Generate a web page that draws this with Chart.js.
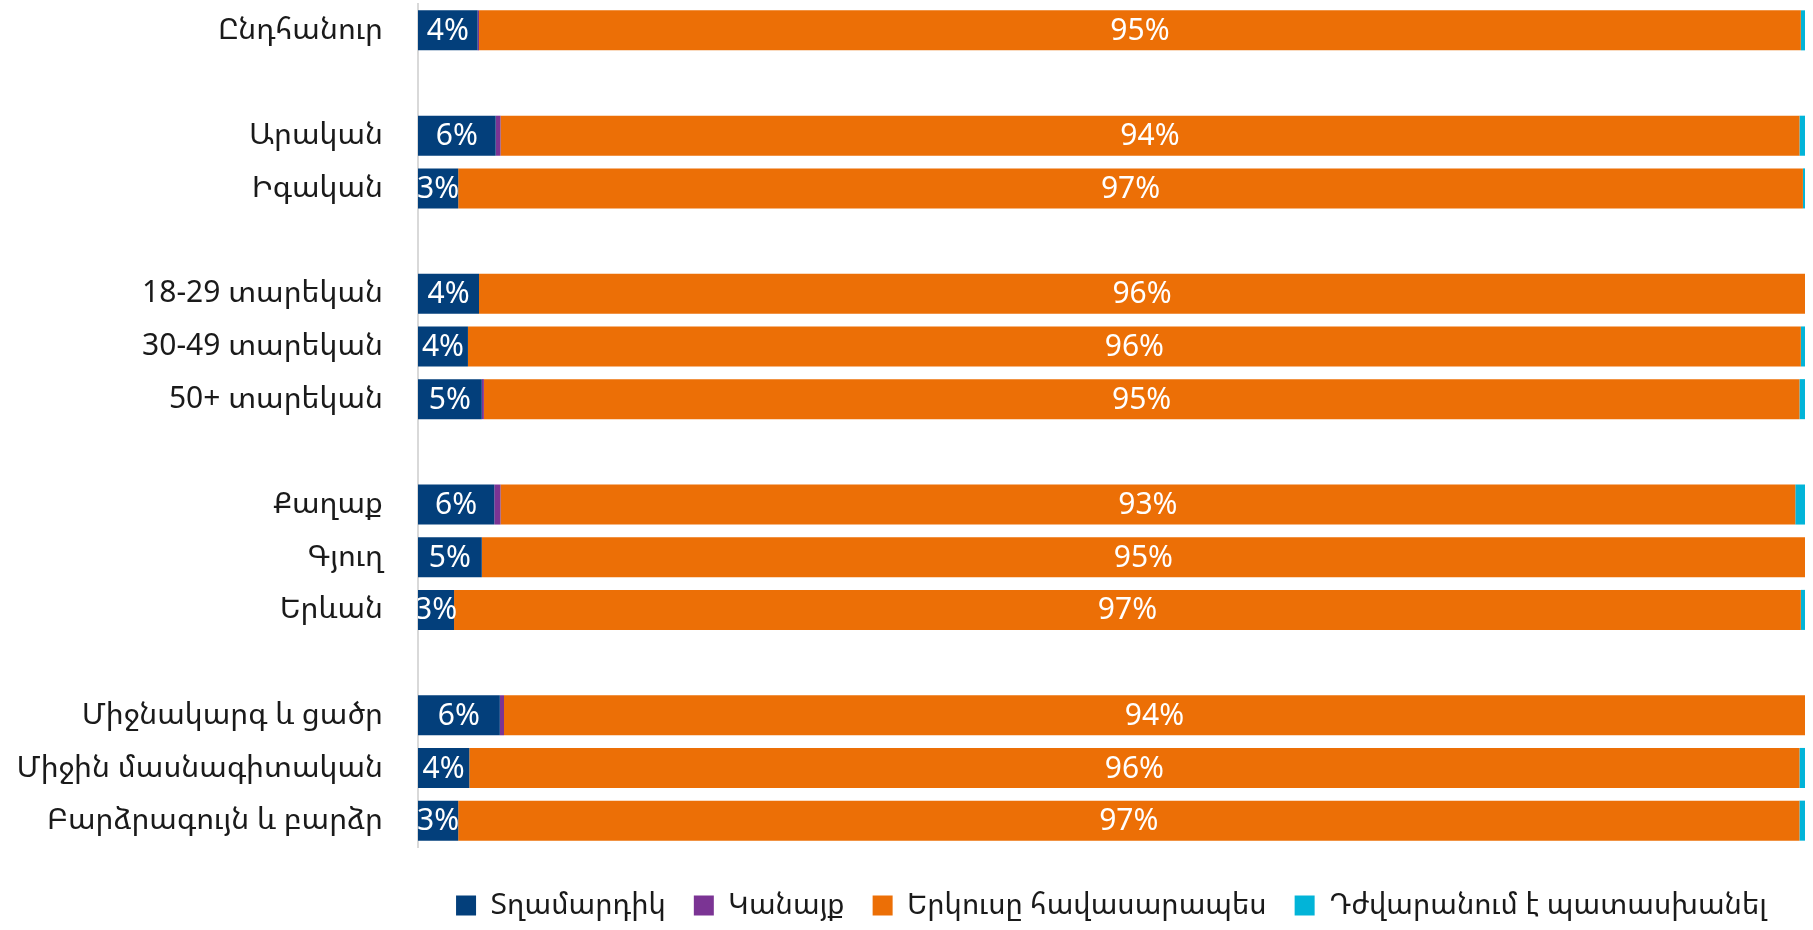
<!DOCTYPE html>
<html>
<head>
<meta charset="utf-8">
<script src="https://cdn.jsdelivr.net/npm/chart.js@4/dist/chart.umd.min.js"></script>
<style>
  html, body { margin: 0; padding: 0; background: #fff; }
  #wrap { width: 1813px; height: 930px; }
</style>
</head>
<body>
<div id="wrap"><canvas id="chart"></canvas></div>
<script>
// categories (empty strings are the gaps between groups)
const categories = [
  "Ընդհանուր", "",
  "Արական", "Իգական", "",
  "18-29 տարեկան", "30-49 տարեկան", "50+ տարեկան", "",
  "Քաղաք", "Գյուղ", "Երևան", "",
  "Միջնակարգ և ցածր", "Միջին մասնագիտական", "Բարձրագույն և բարձր"
];
const seriesNames = ["Տղամարդիկ", "Կանայք", "Երկուսը հավասարապես", "Դժվարանում է պատասխանել"];
const men    = [4.3, null, 5.6, 2.9, null, 4.4, 3.6, 4.6, null, 5.5, 4.6, 2.6, null, 5.9, 3.7, 2.9];
const women  = [0.1, null, 0.35, 0, null, 0, 0, 0.15, null, 0.45, 0, 0, null, 0.3, 0, 0];
const both   = [95.3, null, 93.65, 96.95, null, 95.6, 96.1, 94.85, null, 93.35, 95.4, 97.1, null, 93.8, 95.9, 96.7];
const hard   = [0.3, null, 0.4, 0.15, null, 0, 0.3, 0.4, null, 0.7, 0, 0.3, null, 0, 0.4, 0.4];
const colors = ["#033f7b", "#7b3494", "#ec6f06", "#02b4d8"];

const FONT = "'Segoe UI', 'Noto Sans', 'Noto Sans Armenian', 'DejaVu Sans', sans-serif";

// white % labels inside the bars
const barLabels = {
  id: "barLabels",
  afterDatasetsDraw(chart) {
    const ctx = chart.ctx;
    const area = chart.chartArea;
    ctx.save();
    ctx.beginPath();
    ctx.rect(area.left, area.top, area.right - area.left, area.bottom - area.top);
    ctx.clip();
    ctx.fillStyle = "#fff";
    ctx.font = "30px " + FONT;
    ctx.textAlign = "center";
    ctx.textBaseline = "middle";
    [0, 2].forEach(di => {
      const meta = chart.getDatasetMeta(di);
      meta.data.forEach((bar, i) => {
        const v = chart.data.datasets[di].data[i];
        if (v == null || v < 1) return;
        const cx = (bar.x + bar.base) / 2;
        ctx.fillText(Math.round(v) + "%", cx, bar.y + 1);
      });
    });
    ctx.restore();
  }
};

new Chart(document.getElementById("chart"), {
  type: "bar",
  data: {
    labels: categories,
    datasets: [men, women, both, hard].map((d, i) => ({
      label: seriesNames[i],
      data: d,
      backgroundColor: colors[i],
      borderWidth: 0,
      barPercentage: 0.76,
      categoryPercentage: 1
    }))
  },
  options: {
    indexAxis: "y",
    responsive: true,
    maintainAspectRatio: false,
    animation: false,
    layout: { padding: { top: 4, right: 8, left: 0, bottom: 0 } },
    scales: {
      x: {
        stacked: true,
        min: 0,
        max: 100,
        grid: { display: false },
        border: { display: false },
        ticks: { display: false },
        afterFit(s) { s.height = 16; }
      },
      y: {
        stacked: true,
        grid: { display: false, drawTicks: false },
        border: { color: "#d9d9d9", width: 2 },
        ticks: {
          color: "#1a1a1a",
          padding: 35,
          font: { family: FONT, size: 30 }
        },
        afterFit(s) {
          s.width = 418;
          s.paddingTop = 0;
          s.paddingBottom = 0;
        }
      }
    },
    plugins: {
      legend: {
        position: "bottom",
        fullSize: false,
        labels: {
          boxWidth: 20,
          boxHeight: 20,
          padding: 28,
          color: "#1a1a1a",
          font: { family: FONT, size: 29 }
        }
      },
      tooltip: { enabled: false }
    }
  },
  plugins: [barLabels]
});
</script>
</body>
</html>
